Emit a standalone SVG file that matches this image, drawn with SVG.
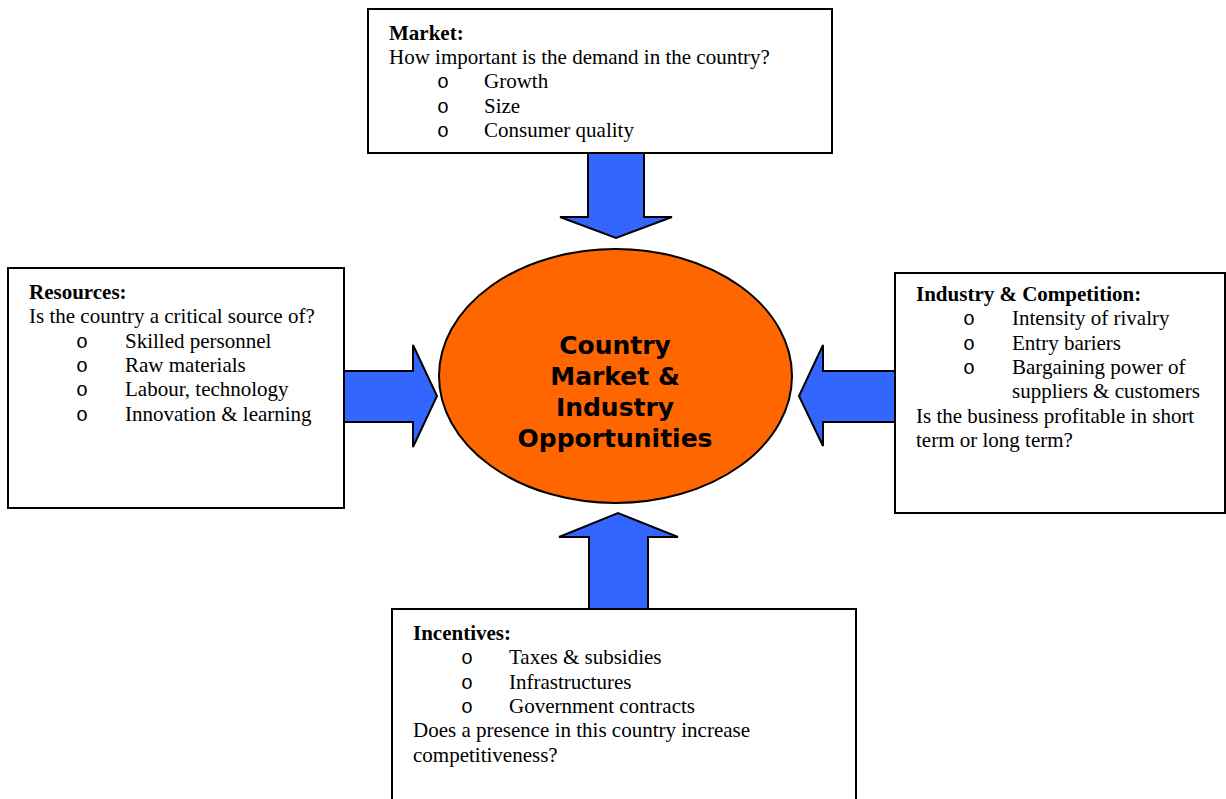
<svg xmlns="http://www.w3.org/2000/svg" width="1226" height="799" viewBox="0 0 1226 799">
<style>
.box{fill:#fff;stroke:#000;stroke-width:2}
.arr{fill:#3366FF;stroke:#000;stroke-width:2;stroke-linejoin:miter}
.t{font-family:"Liberation Serif","Times New Roman",serif;font-size:21px;fill:#000}
.b{font-weight:bold}
.o{font-family:"Liberation Mono","Courier New",monospace;font-size:20px;fill:#000}
.c{font-family:"DejaVu Sans",Verdana,sans-serif;font-size:25px;font-weight:bold;fill:#000;text-anchor:middle}
</style>
<rect width="1226" height="799" fill="#fff"/>
<g id="connectors">
<polygon class="arr" points="588,153 644,153 644,217 672,217 616,238 560,217 588,217"/>
<polygon class="arr" points="344,371 413,371 413,345 437,396 413,447 413,422 344,422"/>
<polygon class="arr" points="895,371 823,371 823,345 799,396 823,446 823,422 895,422"/>
<polygon class="arr" points="589,609 589,537 559,537 618,513 678,537 648,537 648,609"/>
</g>
<g id="market">
<rect class="box" x="368" y="9" width="464" height="144"/>
<text class="t b" x="389" y="40">Market:</text>
<text class="t" x="389" y="64">How important is the demand in the country?</text>
<text class="o" x="437" y="88">o</text><text class="t" x="484" y="88">Growth</text>
<text class="o" x="437" y="113">o</text><text class="t" x="484" y="113">Size</text>
<text class="o" x="437" y="137">o</text><text class="t" x="484" y="137">Consumer quality</text>
</g>
<g id="resources">
<rect class="box" x="8" y="268" width="336" height="240"/>
<text class="t b" x="29" y="299">Resources:</text>
<text class="t" x="29" y="323">Is the country a critical source of?</text>
<text class="o" x="76" y="348">o</text><text class="t" x="125" y="348">Skilled personnel</text>
<text class="o" x="76" y="372">o</text><text class="t" x="125" y="372">Raw materials</text>
<text class="o" x="76" y="396">o</text><text class="t" x="125" y="396">Labour, technology</text>
<text class="o" x="76" y="421">o</text><text class="t" x="125" y="421">Innovation &amp; learning</text>
</g>
<g id="industry">
<rect class="box" x="895" y="273" width="330" height="240"/>
<text class="t b" x="916" y="301">Industry &amp; Competition:</text>
<text class="o" x="963" y="325">o</text><text class="t" x="1012" y="325">Intensity of rivalry</text>
<text class="o" x="963" y="350">o</text><text class="t" x="1012" y="350">Entry bariers</text>
<text class="o" x="963" y="374">o</text><text class="t" x="1012" y="374">Bargaining power of</text>
<text class="t" x="1012" y="398">suppliers &amp; customers</text>
<text class="t" x="916" y="423">Is the business profitable in short</text>
<text class="t" x="916" y="447">term or long term?</text>
</g>
<g id="incentives">
<rect class="box" x="392" y="609" width="464" height="210"/>
<text class="t b" x="413" y="640">Incentives:</text>
<text class="o" x="461" y="664">o</text><text class="t" x="509" y="664">Taxes &amp; subsidies</text>
<text class="o" x="461" y="689">o</text><text class="t" x="509" y="689">Infrastructures</text>
<text class="o" x="461" y="713">o</text><text class="t" x="509" y="713">Government contracts</text>
<text class="t" x="413" y="737">Does a presence in this country increase</text>
<text class="t" x="413" y="762">competitiveness?</text>
</g>
<g id="center">
<ellipse cx="615.5" cy="376" rx="176.5" ry="127" fill="#FF6600" stroke="#000" stroke-width="2"/>
<text class="c" x="615" y="354">Country</text>
<text class="c" x="615" y="385">Market &amp;</text>
<text class="c" x="615" y="416">Industry</text>
<text class="c" x="615" y="447">Opportunities</text>
</g>
</svg>
